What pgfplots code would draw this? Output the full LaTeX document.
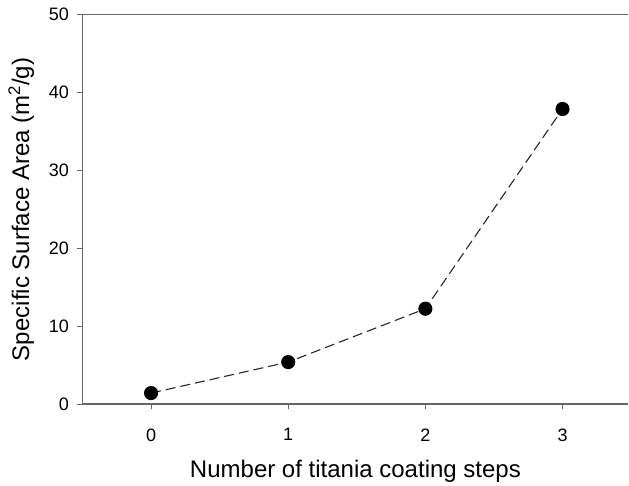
\documentclass[border=0pt]{standalone}
\usepackage{fontspec}
\setmainfont{Liberation Sans}
\usepackage{pgfplots}
\pgfplotsset{compat=1.18}
\begin{document}
\begin{tikzpicture}[x=1pt,y=1pt]
\begin{axis}[
  name=ax,
  scale only axis,
  width=545.8pt, height=389.3pt,
  xmin=-0.5, xmax=3.48,
  ymin=0, ymax=50,
  axis x line*=bottom,
  axis y line*=left,
  axis line style={-, draw=black!60, line width=1.3pt},
  xtick={0,1,2,3},
  ytick={0,10,20,30,40,50},
  xtick pos=bottom, ytick pos=left,
  tick align=outside,
  major tick length=5pt,
  tick style={draw=black!60, line width=1pt},
  /pgf/number format/assume math mode=true,
  ticklabel style={font=\fontsize{18}{21}\selectfont, text=black},
  xticklabel style={yshift=-16pt},
  yticklabel style={xshift=-5pt},
  xlabel={Number of titania coating steps},
  ylabel={Specific Surface Area (m\textsuperscript{2}/g)},
  label style={font=\fontsize{24}{28}\selectfont},
  xlabel style={yshift=-12pt},
  ylabel style={yshift=8pt},
  clip=false,
  extra description/.code={\draw[black!60, line width=1.3pt] (0,1) -- (1,1);},
]
\addplot[black!85, line width=1.1pt, dash pattern=on 10pt off 5pt,
  mark=*, mark size=6.5pt, mark options={solid, fill=black, draw=black}]
  coordinates {(0,1.41) (1,5.39) (2,12.24) (3,37.89)};
\end{axis}
\path ([xshift=-5pt]ax.outer west) circle (0pt);
\path ([yshift=5pt]ax.outer north) circle (0pt);
\end{tikzpicture}
\end{document}
